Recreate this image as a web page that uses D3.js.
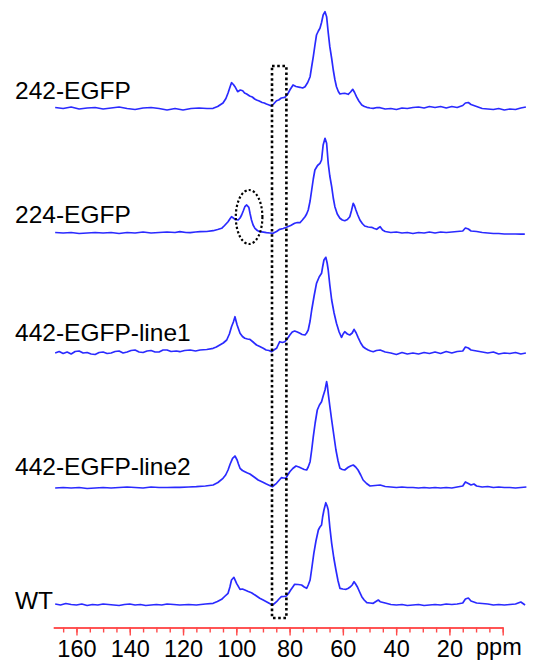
<!DOCTYPE html>
<html><head><meta charset="utf-8">
<script src="https://cdn.jsdelivr.net/npm/d3@7"></script>
<style>body{margin:0;background:#fff}svg{display:block}text{font-family:"Liberation Sans",Arial,sans-serif}</style>
</head><body><svg id="c" width="548" height="663"></svg>
<script>
const series = ["242-EGFP","224-EGFP","442-EGFP-line1","442-EGFP-line2","WT"];
const offsets = [496.5, 372, 252, 117, 0];
const labelRaise = [10, 10, 12, 13, -4];
const majorTicks = [160,140,120,100,80,60,40,20,0];
const tickLabels = ["160","140","120","100","80","60","40","20",""];
const minorTicks = d3.range(0, 170, 5);
const boxPpm = [86.6, 81.2];
const ellipseCenter = [95.2, 16];

const spec242 = [[168,1],[165,0],[162,1.5],[159,-0.5],[156,0.5],[153,1],[150,-0.5],[147,0.5],[144,1.5],[141,0],[138,-1],[135,0.5],[132,1],[129,0],[126,-1.5],[123,0],[120,-1.5],[117,0],[114,0.5],[111,0],[108.7,0.2],[107.0,2],[105.0,5.5],[103.9,10],[103.1,15.5],[102.3,22],[101.8,25.8],[101.1,24],[100.5,21.8],[99.5,16.8],[98.5,18.5],[97.6,17.8],[96.9,15.5],[96.1,14.5],[95.0,12.5],[94.0,11.5],[93.1,9.5],[92.4,8.5],[91.4,7.5],[90.3,6],[89.5,5.5],[88.7,4.5],[87.7,3.5],[86.8,2.5],[86.0,4.5],[84.9,7.8],[84.1,8.5],[83.1,10.5],[81.8,11.2],[80.8,14],[79.9,18.5],[78.7,23.5],[77.6,22],[76.1,21.2],[75.1,20.5],[74.2,21.8],[73.2,26],[72.3,31.8],[71.7,42],[71.1,51.8],[70.5,63],[69.9,73.5],[69.2,77.5],[68.6,80.2],[68.0,86],[67.4,93.5],[66.7,96.8],[66.1,91.8],[65.5,76],[64.9,61.8],[64.2,50],[63.6,38.5],[63.0,29],[62.4,21.8],[61.7,17],[61.1,14.5],[60.2,15],[59.3,15.2],[58.0,14.2],[57.1,16.5],[56.3,19.2],[55.6,16],[54.9,11.8],[54.0,7.5],[52.9,3.5],[51.9,2],[51.0,1.2],[49.8,0.5],[48.6,0.2],[47.2,1],[46.0,0.8],[44.1,-0.5],[42,0],[39.9,-1],[37.8,0.5],[35.8,0],[33.7,1],[31.6,1.5],[29.5,0.5],[27.5,2],[25.4,1],[23.3,2],[21.2,0.5],[19.1,2],[17.1,1],[15,3],[14,5.5],[12.9,6],[11.9,4],[9.8,2],[7.7,0],[5.6,-0.5],[3.5,-1],[1.5,0],[-0.6,-1.5],[-2.7,-0.5],[-4.8,-1],[-6.8,0.5],[-8.7,1.5]];

const spec224 = [[168,0.5],[165,0],[162,0.5],[159,-0.5],[156,0],[153,0.5],[150,0],[147,0.5],[144,-0.5],[141,0.5],[138,0],[135,1],[132,0],[129,0.5],[126,1],[123,0.5],[121.2,1.3],[118.9,0.5],[117.3,0.3],[115.3,1],[113.6,1.3],[111.1,1.5],[108.7,2.3],[107.0,3.5],[105.5,4.7],[104.4,7.5],[103.1,11.3],[102.3,14.5],[101.8,16.3],[101.1,15],[100.5,13.7],[99.3,13],[98.6,15],[98.0,18],[97.4,22],[96.8,26.3],[96.1,28],[95.3,25.7],[94.8,19],[94.3,13],[93.7,8],[93.0,4.7],[92.1,2.5],[91.2,1.3],[89.8,0.8],[88.7,0.3],[87.4,0],[86.2,-0.3],[84.9,1.5],[83.7,3.7],[82.4,4.5],[81.2,5.7],[79.6,7.5],[78.1,9.7],[77.1,10.5],[76.1,10.3],[75.2,13],[74.2,16.3],[73.6,19],[73.0,23],[72.3,32],[71.7,43],[71.1,54],[70.5,63],[69.5,67.5],[68.6,69.7],[68.0,73],[67.4,88],[66.7,94.7],[66.1,89.7],[65.5,69.7],[64.9,57],[64.2,46.3],[63.6,35],[63.0,26.3],[62.1,19],[61.1,14.7],[60.2,13],[59.3,12.3],[58.3,13.5],[57.4,16.3],[56.8,22],[56.1,29.7],[55.6,27],[55.1,23],[54.4,18],[53.6,13],[52.7,9.5],[51.8,7],[50.5,6],[49.2,5.7],[48.2,4.5],[47.3,3.7],[46.7,5],[46.0,6.3],[45.1,3],[44.1,1.5],[42,0.5],[39.9,1],[37.8,0],[35.8,0.5],[33.7,-0.5],[31.6,0.5],[29.5,0],[27.5,1],[25.4,0],[23.3,1],[21.2,0.5],[19.1,1],[17.1,1.5],[15,2],[14,5],[12.9,4],[11.9,2],[9.8,1.5],[7.7,0.5],[5.6,0],[3.5,-0.5],[1.5,-0.5],[-0.6,-1],[-2.7,-1],[-4.8,-1],[-6.8,-1.2],[-8.3,-1.2]];

const specL1 = [[168,0],[166.5,1.5],[165,-0.5],[163.5,1],[162,-1],[160.5,1.5],[159,2],[157.5,0],[156,0.5],[154.5,-1],[153,-1.5],[151.5,0.5],[150,1],[148.5,-0.5],[147,0],[145.5,1.5],[144,2],[142.5,0],[141,1],[139.5,2.5],[138,3],[136.5,1],[135,0.5],[133.5,2],[132,2.5],[130.5,1],[129,1],[127.5,3],[126,3],[124.5,1.5],[122.5,2],[121.2,1.3],[119.4,2.5],[117.3,3],[115.3,2],[113.6,3],[111.1,3.5],[108.7,4.7],[107.5,6],[106.2,8],[104.9,10],[103.6,13],[102.6,19],[101.8,26.3],[101.1,31],[100.5,36.3],[100.1,32],[99.7,28],[98.6,19.7],[97.7,16.5],[96.8,14.7],[95.8,14],[94.9,13.7],[93.7,11],[92.4,8],[91.2,6.5],[89.9,4.7],[88.8,3],[87.7,2.5],[86.8,1.3],[85.9,3],[84.9,4.7],[84.3,8],[83.7,11.3],[82.7,10.5],[81.8,11.3],[80.9,14],[79.9,18],[79.0,21],[78.1,22],[77.1,21],[76.1,19.7],[75.3,18.5],[74.2,18],[73.6,20],[73.0,23],[72.3,32],[71.7,43],[70.8,57],[69.9,69.7],[68.9,76],[68.0,79.7],[67.6,86],[67.1,93],[66.4,95.7],[65.9,90],[65.5,83],[64.9,68],[64.2,53],[63.3,40],[62.4,29.7],[61.4,21],[60.5,15.7],[59.9,19],[59.3,21.3],[58.3,19],[57.4,18],[56.5,20],[55.8,23.7],[55.0,20],[54.3,15.7],[53.3,10],[52.4,6.3],[51.5,4.5],[50.5,3],[49.6,2],[48.6,1.3],[47.4,2.5],[46.0,3],[44.1,1],[42,0],[39.9,-1.5],[37.8,0.5],[35.8,-1],[33.7,0],[31.6,-1],[29.5,0.5],[27.5,-0.5],[25.4,1],[23.3,-0.5],[21.2,1.5],[19.1,0],[17.1,1.5],[15,2],[14,6],[12.9,5],[11.9,3],[9.8,2],[7.7,1],[5.6,0],[3.5,1],[1.5,-1],[-0.6,0],[-2.7,-0.5],[-4.8,0.5],[-6.8,-1],[-8.7,0]];

const specL2 = [[168,0],[165,0.5],[162,0],[159,0.5],[156,-0.5],[153,0],[150,0.5],[147,0],[144,0.5],[141,1],[138,0.5],[135,0],[132,1],[129,0.5],[126,0.5],[123,0.6],[121.2,0.7],[117.9,1],[115.0,1.3],[111.6,2],[108.7,3],[106.9,5.5],[105.0,9.7],[104.0,13],[103.1,18],[102.3,24],[101.4,29.7],[100.5,32],[99.7,28],[99.2,24],[98.6,19.7],[97.7,17.5],[96.8,16.3],[95.8,15],[94.9,14],[93.3,11],[91.8,8],[90.2,6],[88.7,4],[87.5,2.5],[86.4,1.3],[85.7,3],[84.9,4.7],[84.0,7.5],[83.1,10.3],[82.2,10],[81.4,9.7],[80.7,13],[79.9,16.3],[78.8,19.5],[77.6,22],[76.5,21],[75.5,19.7],[74.5,18.5],[73.6,18],[73.0,21],[72.3,26.3],[71.7,38],[71.1,51.3],[70.4,65],[69.6,78],[68.8,83],[68.0,86.3],[67.4,92],[66.7,98],[66.1,106.3],[65.8,102],[65.5,94.7],[64.9,82],[64.2,68],[63.4,53],[62.6,38],[61.8,27],[61.1,19.7],[60.2,18.5],[59.3,18],[58.6,19.5],[58.0,20.7],[57.1,22],[56.1,23],[55.2,21],[54.3,18],[53.3,13],[52.4,8],[51.1,4.5],[49.8,2],[47.9,2.5],[46.0,3],[44.1,1.5],[42,1],[39.9,0.5],[37.8,1],[35.8,0.5],[33.7,0.5],[31.6,0],[29.5,0.5],[27.5,0],[25.4,0.5],[23.3,0],[21.2,0.5],[19.1,0],[17.1,1],[15,2],[14,6],[12.9,4.5],[11.9,3],[10.8,4],[9.8,2],[7.7,1],[5.6,1.5],[3.5,0.5],[1.5,1],[-0.6,0.5],[-2.7,0.5],[-4.8,0],[-6.8,0.5],[-8.9,1]];

const specWT = [[168,1],[166,0],[164,1.5],[162,0.5],[160,0],[158,1],[156,-0.5],[154,0.5],[152,0],[150,1],[148,0.5],[146,0],[144,-0.5],[142,0.5],[140,1],[138,0],[136,0.5],[134,-0.5],[132,0],[130,0.5],[128,0],[126,1],[123.5,0.5],[121.2,0],[117.9,0.5],[115.0,0],[111.6,1],[108.7,1.7],[107.1,3.5],[105.5,5.7],[104.4,8.5],[103.1,11.7],[102.4,18],[101.8,25],[100.9,27.7],[99.9,21.7],[98.6,15.7],[97.7,16],[96.8,15],[95.5,13.5],[94.3,12.3],[92.7,9.5],[91.2,6.7],[89.9,5],[88.7,3.3],[87.5,1.5],[86.4,0],[85.7,1.5],[84.9,3.3],[84.0,6],[83.1,8.3],[82.1,8.5],[81.2,9],[80.3,12],[79.6,15],[78.8,18],[78.1,20.7],[76.8,20.5],[75.5,20],[74.5,18],[73.6,16.7],[73.0,20],[72.3,25],[71.6,38],[70.9,51.7],[70.1,64],[69.2,75],[68.6,78],[68.0,80],[67.6,88],[67.1,95],[66.4,102.3],[65.9,99],[65.5,95],[64.9,78],[64.2,61.7],[63.4,47],[62.6,35],[61.8,24],[61.1,16.7],[60.0,16],[58.8,15.7],[58.1,16.5],[57.4,17.7],[56.5,20],[55.8,23.3],[55.2,21],[54.6,18.3],[53.7,13],[52.9,8.3],[52.0,5],[51.0,2.3],[49.8,2],[48.6,1.7],[47.6,3.5],[46.7,5],[46.0,3.3],[44.1,2],[42,0.5],[39.9,0],[37.8,0.5],[35.8,-0.5],[33.7,0],[31.6,0.5],[29.5,-0.5],[27.5,0],[25.4,0.5],[23.3,0],[21.2,1],[19.1,0.5],[17.1,1],[15,2],[14,6],[12.9,7],[11.9,4],[9.8,2],[7.7,1.5],[5.6,1],[3.5,0],[1.5,0.5],[-0.6,0],[-2.7,0.5],[-4.8,1],[-6.8,3],[-8.4,0]];

const spectra = [spec242, spec224, specL1, specL2, specWT];

const svg = d3.select("#c");
const x = d3.scaleLinear().domain([168.7, 0]).range([53.3, 502.7]);
const y = d3.scaleLinear().domain([0, 600]).range([605, 5]);
const axisY = 627.5;

const line = d3.line().x(d => x(d[0])).y(d => y(d[1]));

svg.append("g").selectAll("path").data(spectra).join("path")
  .attr("fill","none").attr("stroke","#2a2aff").attr("stroke-width",1.7)
  .attr("stroke-linejoin","round")
  .attr("d",(d,i)=>line(d.map(p=>[p[0], p[1]+offsets[i]])));

svg.append("g").selectAll("text").data(series).join("text")
  .attr("x",15).attr("y",(d,i)=>y(offsets[i]+labelRaise[i]))
  .attr("font-size",24.5).attr("fill","#000").text(d=>d);

const boxTop = 66, boxBottom = 618;
svg.append("rect")
  .attr("x", x(boxPpm[0])).attr("width", x(boxPpm[1]) - x(boxPpm[0]))
  .attr("y", boxTop).attr("height", boxBottom - boxTop)
  .attr("fill","none").attr("stroke","#000").attr("stroke-width",2.6)
  .attr("stroke-dasharray","2.6 2.6");

svg.append("ellipse")
  .attr("cx", x(ellipseCenter[0])).attr("cy", y(offsets[1]+ellipseCenter[1]))
  .attr("rx", 13.3).attr("ry", 27)
  .attr("fill","none").attr("stroke","#000").attr("stroke-width",2.2)
  .attr("stroke-dasharray","2.2 2.2");

const red = "#ff4a4a";
const gMinor = svg.append("g").attr("transform",`translate(0,${axisY})`)
  .call(d3.axisBottom(x).tickValues(minorTicks).tickSize(5).tickSizeOuter(0).tickFormat(""));
const gMajor = svg.append("g").attr("transform",`translate(0,${axisY})`)
  .call(d3.axisBottom(x).tickValues(majorTicks).tickSize(8).tickSizeOuter(0)
    .tickFormat((d,i)=>tickLabels[i]));
[gMinor,gMajor].forEach(g=>{
  g.select(".domain").attr("stroke",red).attr("stroke-width",1.6);
  g.selectAll(".tick line").attr("stroke",red).attr("stroke-width",1.4);
});
gMajor.selectAll(".tick text").attr("fill","#000").attr("font-size",23.5)
  .attr("font-family",'"Liberation Sans",Arial,sans-serif')
  .attr("y",13).attr("dy","0.71em");
svg.append("text").attr("x",476).attr("y",655).attr("font-size",23.5).attr("fill","#000").text("ppm");
</script></body></html>
